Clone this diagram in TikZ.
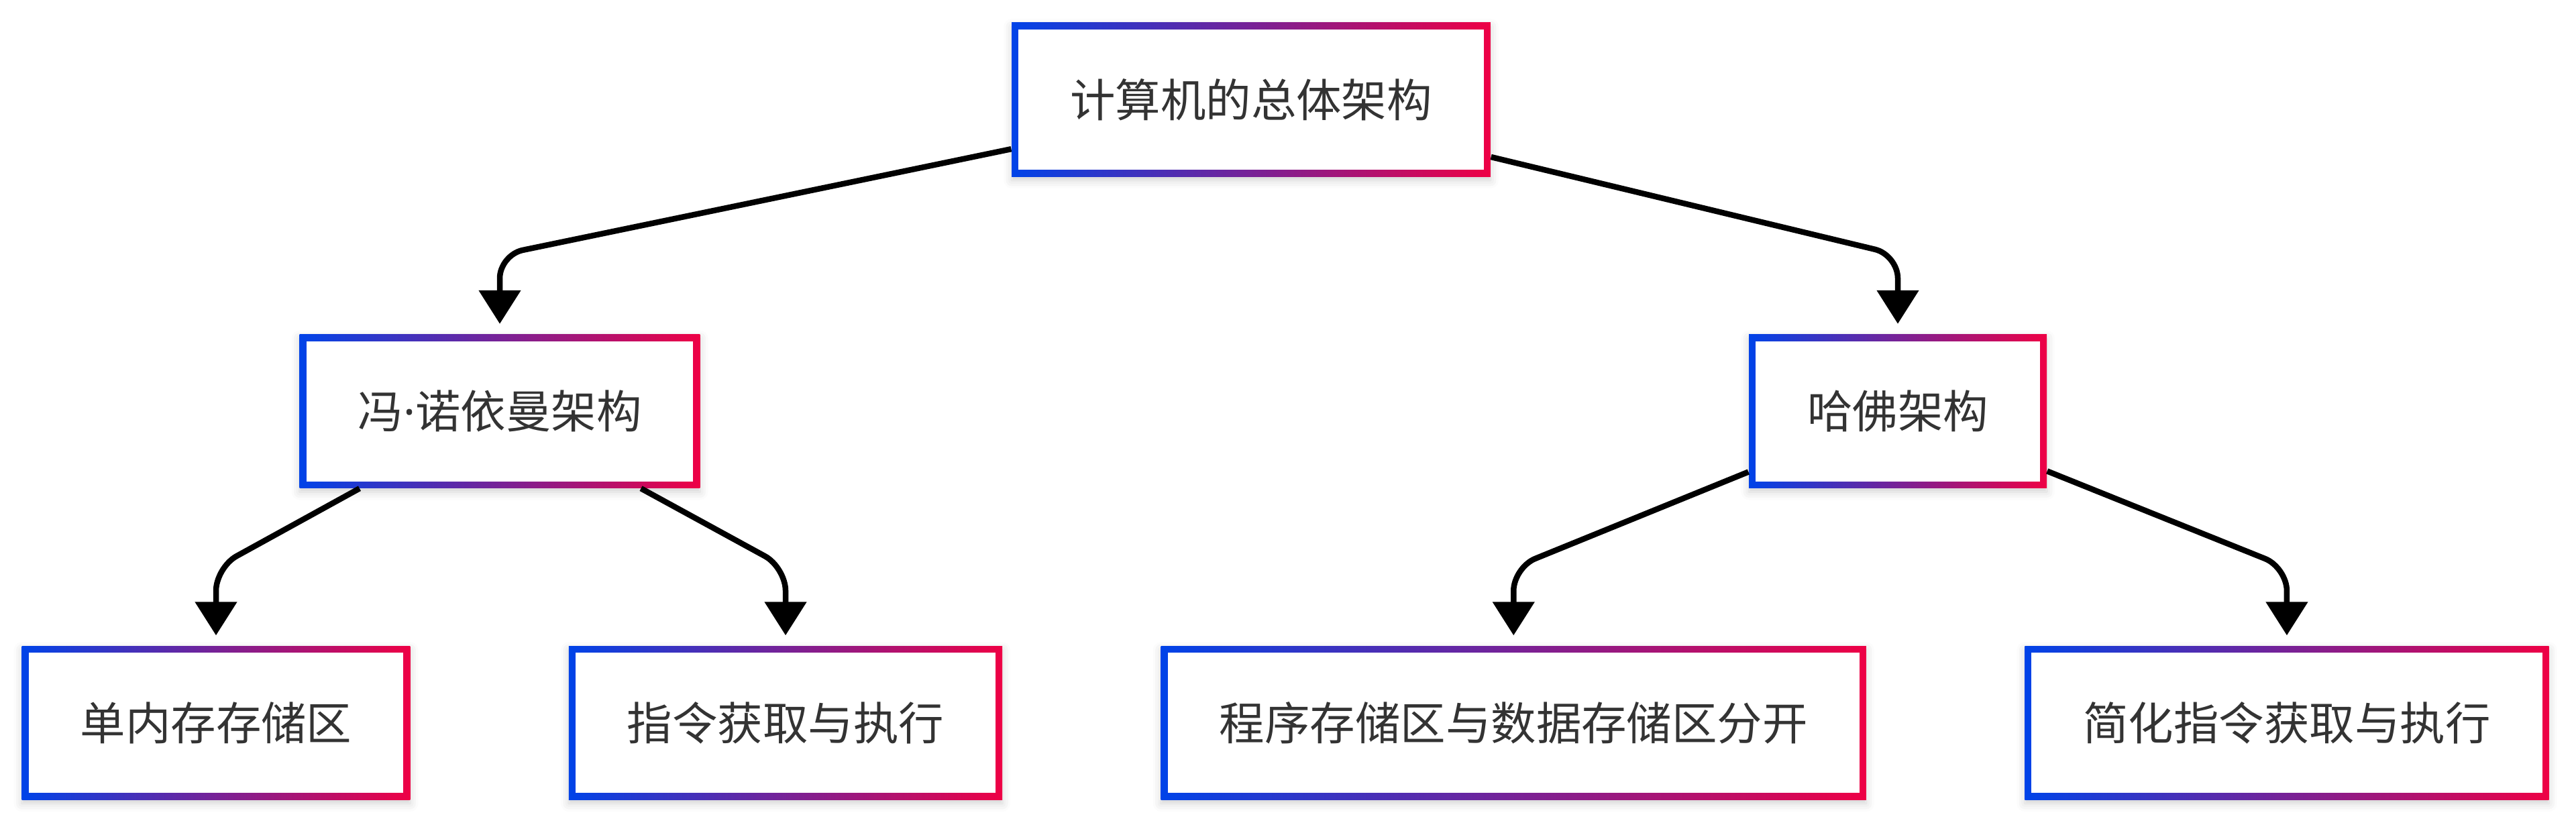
\documentclass[tikz,border=0pt]{standalone}
\usepackage{fontspec}
\setmainfont{Noto Sans CJK SC}
\newfontfamily\archlatin{Noto Sans}
\usetikzlibrary{positioning,arrows.meta,shadows.blur}
\definecolor{archblue}{HTML}{0043E8}
\definecolor{archred}{HTML}{EE0045}
\definecolor{archtext}{HTML}{333333}
\pgfmathsetmacro{\archborder}{0.1}
\pgfmathsetmacro{\archbendtop}{-3.80}
\pgfmathsetmacro{\archbendlow}{-8.46}
\tikzset{
  archbox/.style={
    left color=archblue, right color=archred,
    text=archtext, font=\fontsize{19.2pt}{23pt}\selectfont,
    minimum height=2.29cm, inner xsep=0.87cm,
    path picture={\fill[white]
      ([shift={(\archborder,\archborder)}]path picture bounding box.south west)
      rectangle ([shift={(-\archborder,-\archborder)}]path picture bounding box.north east);},
    blur shadow={shadow xshift=0cm, shadow yshift=-0.06cm,
      shadow blur radius=0.12cm, shadow opacity=18}
  },
  archedge/.style={
    line width=0.085cm, rounded corners=0.35cm, shorten >=0.15cm,
    -{Triangle[length=0.5cm, width=0.61cm]}
  }
}

\begin{document}
\begin{tikzpicture}[node distance=2.35cm]
    \useasboundingbox (0,0) rectangle (38.4,-12.3);
    % define boxes
    % top level
    \node[archbox] (arch_top) at (18.65,-1.485) {计算机的总体架构};
    % second level
    \node[archbox] (arch_vn) at (7.45,-6.13) {冯{\archlatin ·}诺依曼架构};
    \node[archbox] (arch_hv) at (28.29,-6.13) {哈佛架构};
    % third level
    \node[archbox] (vn_mem) at (3.22,-10.775) {单内存存储区};
    \node[archbox, right=of vn_mem] (vn_exec) {指令获取与执行};
    \node[archbox, right=of vn_exec] (hv_split) {程序存储区与数据存储区分开};
    \node[archbox, right=of hv_split] (hv_exec) {简化指令获取与执行};
    % bends above each child
    \coordinate (arch_vn_bend) at (arch_vn |- 0,\archbendtop);
    \coordinate (arch_hv_bend) at (arch_hv |- 0,\archbendtop);
    \coordinate (vn_mem_bend) at (vn_mem |- 0,\archbendlow);
    \coordinate (vn_exec_bend) at (vn_exec |- 0,\archbendlow);
    \coordinate (hv_split_bend) at (hv_split |- 0,\archbendlow);
    \coordinate (hv_exec_bend) at (hv_exec |- 0,\archbendlow);
    % draw edges
    \draw[archedge] (arch_top) -- (arch_vn_bend) -- (arch_vn);
    \draw[archedge] (arch_top) -- (arch_hv_bend) -- (arch_hv);
    \draw[archedge] (arch_vn) -- (vn_mem_bend) -- (vn_mem);
    \draw[archedge] (arch_vn) -- (vn_exec_bend) -- (vn_exec);
    \draw[archedge] (arch_hv) -- (hv_split_bend) -- (hv_split);
    \draw[archedge] (arch_hv) -- (hv_exec_bend) -- (hv_exec);
\end{tikzpicture}
\end{document}
